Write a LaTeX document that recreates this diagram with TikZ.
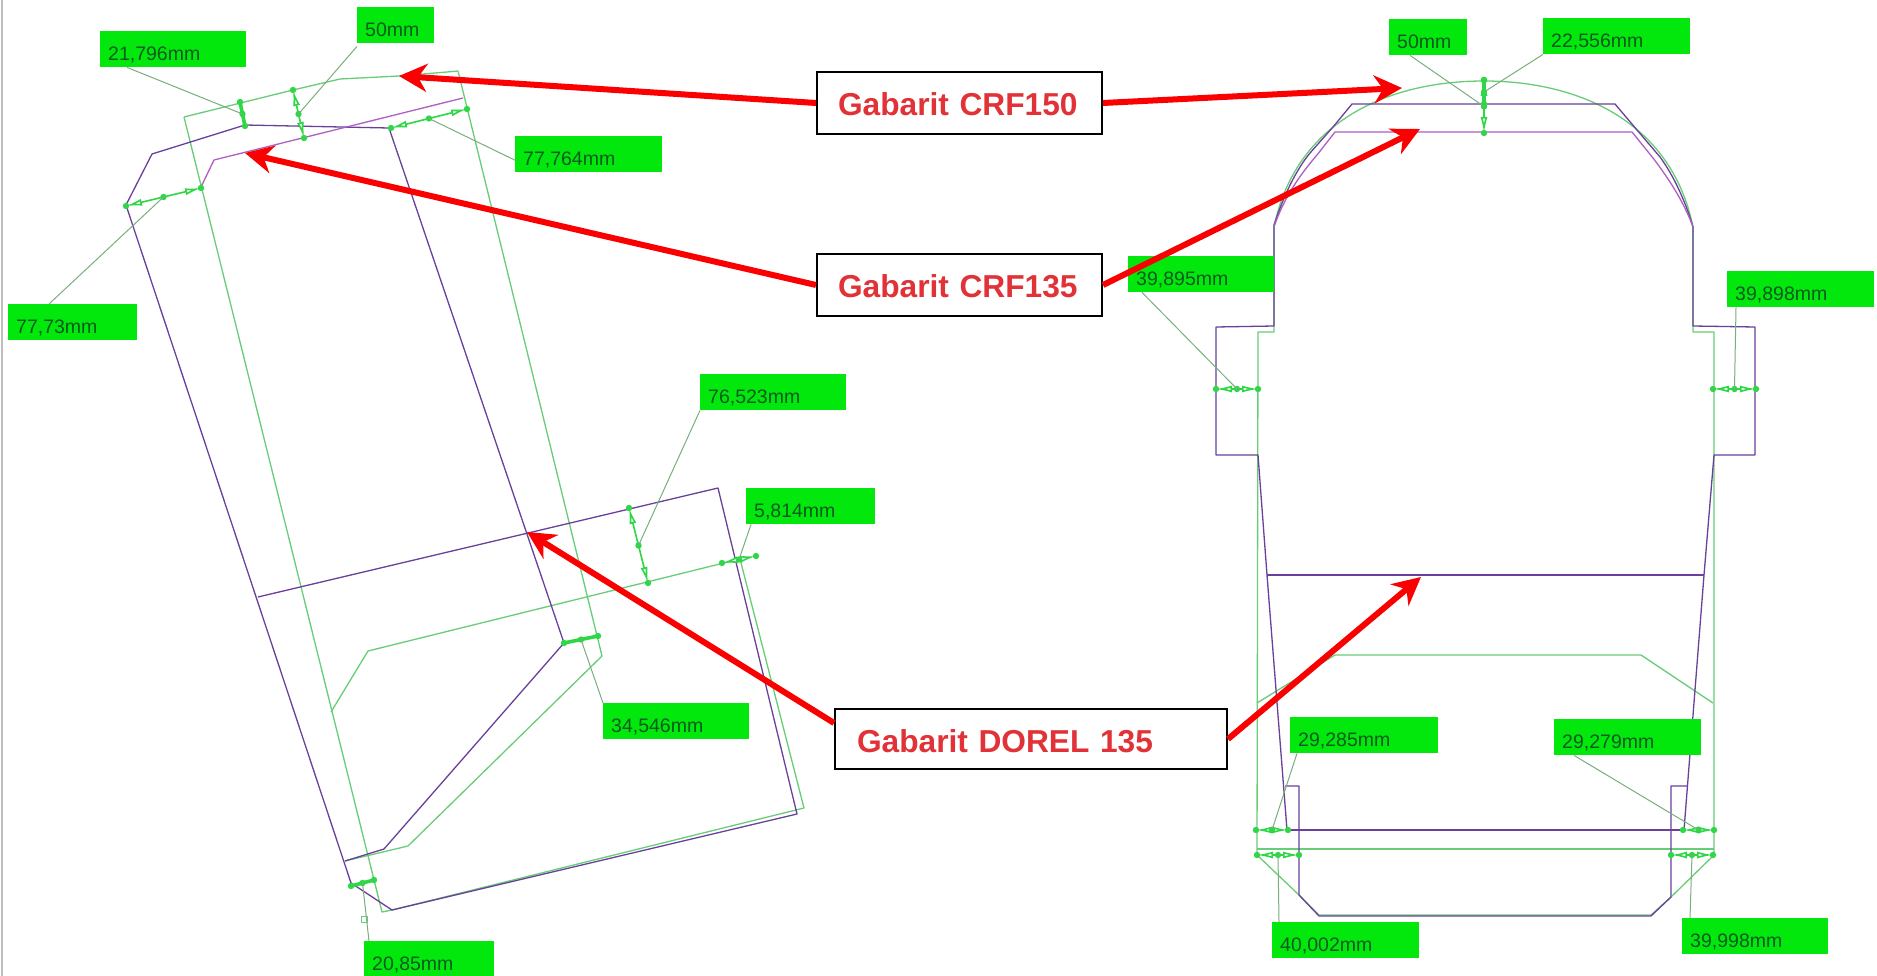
\documentclass[tikz,border=0pt]{standalone}
\usepackage{fontspec}
\setmainfont{Liberation Sans}
\usetikzlibrary{arrows.meta,calc}
\definecolor{taggreen}{RGB}{2,232,12}
\definecolor{tagtext}{RGB}{10,90,30}
\definecolor{cadgreen}{RGB}{105,205,120}
\definecolor{leadgreen}{RGB}{120,175,125}
\definecolor{dimgreen}{RGB}{45,215,70}
\definecolor{cadpurple}{RGB}{105,65,155}
\definecolor{lightpurple}{RGB}{175,95,195}
\definecolor{redarrow}{RGB}{250,0,0}
\definecolor{redtext}{RGB}{225,50,55}
\definecolor{framegrey}{RGB}{190,190,190}
\tikzset{
  x=1pt,y=-1pt,
  greenline/.style={draw=cadgreen,line width=1.3pt,line join=round},
  purpleline/.style={draw=cadpurple,line width=1.3pt,line join=round},
  palepurple/.style={draw=lightpurple,line width=1.3pt,line join=round},
  leader/.style={draw=leadgreen,line width=1pt},
  dimthin/.style={draw=dimgreen,line width=1.6pt,{Latex[open,length=16pt,width=7pt,fill=white]}-{Latex[open,length=16pt,width=7pt,fill=white]}},
  dimthick/.style={draw=dimgreen,line width=3.6pt,line cap=round},
  tagbox/.style={fill=taggreen,draw=none,inner sep=0pt,anchor=north west,minimum height=36pt,align=left,text=tagtext,font=\fontsize{19.5}{20}\selectfont},
  calloutbox/.style={draw=black,line width=2pt,fill=white,inner xsep=0pt,inner ysep=0pt,text height=26pt,text depth=0pt,align=left,text=redtext,font=\fontsize{31.7}{34}\selectfont\bfseries},
  redarr/.style={draw=redarrow,line width=6pt,-{Stealth[length=28pt,width=28pt,inset=9pt]}}
}
\newcommand{\dimm}[4][dimthin]{%
  \coordinate (#2a) at (#3); \coordinate (#2b) at (#4);
  \coordinate (#2m) at ($(#2a)!.5!(#2b)$);
  \draw[#1] (#2a) -- (#2b);
  \fill[dimgreen] (#2a) circle (3.2pt) (#2b) circle (3.2pt) (#2m) circle (3.2pt);}
% name, x, y, width, text
\newcommand{\lbl}[5]{\node[tagbox,minimum width=#4pt,text width=#4pt] (#1) at (#2,#3) {\hspace*{8pt}\smash{\raisebox{-11pt}{#5}}};}
\begin{document}
\begin{tikzpicture}
\useasboundingbox (0,0) rectangle (1877,976);
\fill[white] (0,0) rectangle (1877,976);
\draw[framegrey,line width=2pt] (2,0) -- (2,976);

% ---- left gauge: green
\draw[greenline] (184,117) -- (293,90) -- (340,79) -- (399,76) -- (447,72) -- (458,71)
  -- (602,656) -- (408,846) -- (345,861);
\draw[greenline] (184,117) -- (382,912) -- (392,910) -- (804,808) -- (740,559) -- (368,651) -- (331,712);
% ---- left gauge: purple
\draw[purpleline] (126,205) -- (152,154) -- (245,125) -- (389,128) -- (564,643) -- (384,849) -- (345,861);
\draw[purpleline] (126,205) -- (351,883) -- (392,910) -- (797,814) -- (718,488) -- (258,597);
\draw[palepurple] (201,187) -- (214,160) -- (463,98);
\draw[greenline,line width=1pt] (361,916) rectangle (367,922);

% ---- right gauge: green
\draw[greenline] (1274,257) -- (1274,227) .. controls (1296,120) and (1390,81) .. (1484,81) .. controls (1577,81) and (1671,120) .. (1693,227) -- (1693,257);
\draw[greenline] (1274,257) -- (1274,332) -- (1258,332) -- (1257,855) -- (1299,895) -- (1319,915) -- (1651,915) -- (1671,897) -- (1714,855) -- (1714,332) -- (1693,332) -- (1693,257);
\draw[greenline] (1257,849) -- (1714,849);
\draw[greenline] (1257,703) -- (1335,655) -- (1641,655) -- (1713,703);
% ---- right gauge: purple
\draw[purpleline] (1274,225) .. controls (1284,195) and (1296,170) .. (1310,153) -- (1333,127) -- (1352,104) -- (1615,104) -- (1637,130) -- (1660,157) .. controls (1674,176) and (1686,203) .. (1693,227);
\draw[purpleline] (1274,225) -- (1274,326) -- (1216,327) -- (1216,455) -- (1258,455) -- (1267,575) -- (1287,830);
\draw[purpleline] (1693,227) -- (1693,326) -- (1755,327) -- (1755,455) -- (1714,455) -- (1704,575) -- (1684,830);
\draw[purpleline] (1267,575) -- (1704,575);
\draw[purpleline] (1287,830) -- (1684,830);
\draw[purpleline] (1285,786) -- (1299,786) -- (1299,895) -- (1319,916) -- (1651,916) -- (1671,897) -- (1671,786) -- (1687,786);
\draw[palepurple] (1274,227) .. controls (1283,200) and (1298,177) .. (1317,155) -- (1335,132) -- (1632,132) -- (1653,158) .. controls (1672,183) and (1685,205) .. (1693,227);

% ---- dimension marks
\dimm[dimthick]{dA}{240,102}{245,126}
\dimm{dB}{293,90}{304,138}
\dimm{dC}{391,128}{467,109}
\dimm{dD}{126,206}{201,188}
\dimm{dE}{629,508}{648,583}
\dimm{dF}{722,563}{756,556}
\dimm[dimthick]{dG}{564,643}{598,636}
\dimm[dimthick]{dH}{351,886}{374,880}
\dimm{dI}{1484,80}{1484,133}
\dimm[dimthick]{dJ}{1484,80}{1484,104}
\dimm{dK}{1216,389}{1258,389}
\dimm{dL}{1713,389}{1756,389}
\dimm{dM}{1256,830}{1288,830}
\dimm{dN}{1683,830}{1714,830}
\dimm{dO}{1257,855}{1299,855}
\dimm{dP}{1671,855}{1713,855}

% ---- green labels
\lbl{t1}{100}{31}{146}{21,796mm}
\lbl{t2}{357}{7}{77}{50mm}
\lbl{t3}{515}{136}{147}{77,764mm}
\lbl{t4}{8}{304}{129}{77,73mm}
\lbl{t5}{700}{374}{146}{76,523mm}
\lbl{t6}{746}{488}{129}{5,814mm}
\lbl{t7}{603}{703}{146}{34,546mm}
\lbl{t8}{364}{941}{130}{20,85mm}
\lbl{t9}{1389}{19}{78}{50mm}
\lbl{t10}{1543}{18}{147}{22,556mm}
\lbl{t11}{1128}{256}{146}{39,895mm}
\lbl{t12}{1727}{271}{147}{39,898mm}
\lbl{t13}{1290}{717}{148}{29,285mm}
\lbl{t14}{1554}{719}{147}{29,279mm}
\lbl{t15}{1272}{922}{147}{40,002mm}
\lbl{t16}{1682}{918}{146}{39,998mm}

% ---- leaders
\draw[leader] ($(t1.south west)+(27,0)$) -- (dAm);
\draw[leader] ($(t2.south west)+(0,3)$) -- (dBm);
\draw[leader] ($(t3.west)+(0,6)$) -- (dCm);
\draw[leader] ($(t4.north west)+(41,0)$) -- (dDm);
\draw[leader] (t5.south west) -- (dEm);
\draw[leader] ($(t6.south west)+(5,0)$) -- (dFm);
\draw[leader] (t7.north west) -- (dGm);
\draw[leader] ($(t8.north west)+(5,0)$) -- (dHm);
\draw[leader] ($(t9.south west)+(21,0)$) -- (dIm);
\draw[leader] (t10.south west) -- (dJm);
\draw[leader] ($(t11.south west)+(14,0)$) -- (dKm);
\draw[leader] ($(t12.south west)+(9,0)$) -- (dLm);
\draw[leader] ($(t13.south west)+(7,0)$) -- (dMm);
\draw[leader] ($(t14.south west)+(20,0)$) -- (dNm);
\draw[leader] ($(t15.north west)+(7,0)$) -- (dOm);
\draw[leader] ($(t16.north west)+(8,0)$) -- (dPm);

% ---- callouts
\node[calloutbox,minimum width=285pt,text width=285pt,minimum height=62pt] (crfA) at (959.5,103) {\hspace*{21pt}Gabarit CRF150};
\node[calloutbox,minimum width=285pt,text width=285pt,minimum height=62pt] (crfB) at (959.5,285) {\hspace*{21pt}Gabarit CRF135};
\node[calloutbox,minimum width=392pt,text width=392pt,minimum height=60pt] (dorel) at (1031,739) {\hspace*{22pt}Gabarit DOREL 135};
\coordinate (hA) at (399,76);
\coordinate (hB) at (1402,88);
\coordinate (hC) at (245,153);
\coordinate (hD) at (1420,129);
\coordinate (hE) at (527,532);
\coordinate (hF) at (1421,577);
\draw[redarr] (crfA.west) -- (hA);
\draw[redarr] (crfA.east) -- (hB);
\draw[redarr] (crfB.west) -- (hC);
\draw[redarr] (crfB.east) -- (hD);
\draw[redarr] ($(dorel.west)+(0,-16)$) -- (hE);
\draw[redarr] (dorel.east) -- (hF);
\end{tikzpicture}
\end{document}
